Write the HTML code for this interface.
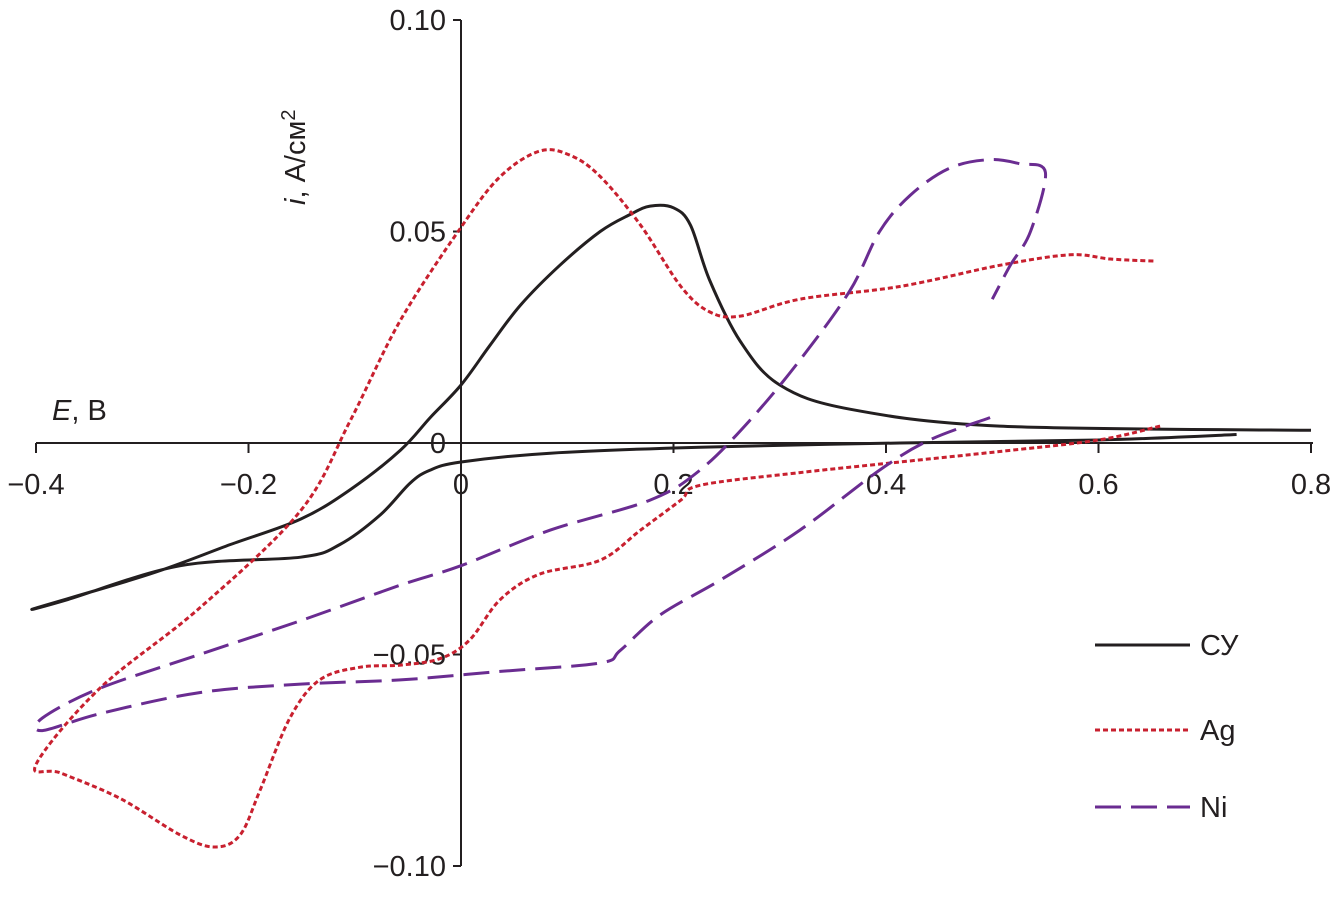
<!DOCTYPE html>
<html><head><meta charset="utf-8"><style>
body{margin:0;background:#fff;}
svg text{font-family:"Liberation Sans",sans-serif;font-size:29px;fill:#231f20;}
</style></head><body>
<svg id="chart" width="1335" height="894" viewBox="0 0 1335 894" xmlns="http://www.w3.org/2000/svg">
<g id="axes"></g>
<g id="series"></g>
<g id="legend"></g>
</svg>
<script>
const xTicks=[-0.4,-0.2,0,0.2,0.4,0.6,0.8];
const xTickLabels=["−0.4","−0.2","0","0.2","0.4","0.6","0.8"];
const yTicks=[0.10,0.05,0,-0.05,-0.10];
const yTickLabels=["0.10","0.05","0","−0.05","−0.10"];
const cyE=[0.8,0.507,0.366,0.3,0.263,0.234,0.216,0.2,0.178,0.159,0.131,0.093,0.056,0.027,0,-0.029,-0.057,-0.104,-0.151,-0.217,-0.293,-0.4,-0.37,-0.264,-0.151,-0.114,-0.076,-0.048,-0.029,0,0.084,0.225,0.413,0.6,0.73];
const cyI=[0.003,0.004,0.008,0.0137,0.024,0.0385,0.0515,0.0556,0.056,0.054,0.05,0.042,0.0326,0.023,0.0137,0.006,-0.0017,-0.011,-0.018,-0.024,-0.031,-0.039,-0.037,-0.029,-0.027,-0.024,-0.017,-0.0095,-0.0064,-0.0045,-0.0024,-0.001,0,0.0007,0.002];
const agE=[0.658,0.6,0.507,0.413,0.319,0.225,0.207,0.169,0.131,0.074,0.037,0.008,-0.02,-0.057,-0.095,-0.133,-0.161,-0.189,-0.208,-0.232,-0.264,-0.321,-0.377,-0.4,-0.34,-0.246,-0.151,-0.104,-0.057,0,0.037,0.074,0.103,0.131,0.169,0.207,0.234,0.263,0.319,0.413,0.507,0.573,0.611,0.653];
const agI=[0.004,0.0007,-0.002,-0.0045,-0.007,-0.01,-0.0135,-0.0206,-0.0277,-0.031,-0.037,-0.0466,-0.051,-0.0525,-0.053,-0.056,-0.065,-0.082,-0.0927,-0.0955,-0.0927,-0.084,-0.078,-0.076,-0.058,-0.039,-0.016,0.0054,0.029,0.051,0.063,0.069,0.068,0.063,0.0515,0.037,0.031,0.030,0.034,0.037,0.042,0.0445,0.0435,0.043];
const niE=[0.498,0.441,0.394,0.319,0.244,0.187,0.15,0.131,0.037,-0.057,-0.151,-0.246,-0.34,-0.394,-0.394,-0.34,-0.246,-0.151,-0.057,0,0.084,0.178,0.225,0.272,0.319,0.366,0.394,0.423,0.46,0.498,0.526,0.55,0.536,0.517,0.5];
const niI=[0.006,0.0007,-0.0064,-0.0206,-0.0324,-0.0407,-0.049,-0.052,-0.054,-0.056,-0.057,-0.059,-0.064,-0.068,-0.065,-0.058,-0.05,-0.042,-0.0336,-0.029,-0.0206,-0.0135,-0.0064,0.0054,0.0196,0.036,0.05,0.0586,0.065,0.067,0.066,0.064,0.05,0.042,0.034];
const X=e=>461+e*1062.5, Y=v=>443-v*4230;
const NS="http://www.w3.org/2000/svg";
function mk(tag,parent,attrs){const el=document.createElementNS(NS,tag);for(const k in attrs)el.setAttribute(k,attrs[k]);parent.appendChild(el);return el;}
const axes=document.getElementById('axes');
let el=mk('line',axes,{x1:36,y1:443,x2:1313,y2:443,stroke:'#231f20','stroke-width':2});


el=mk('line',axes,{x1:461,y1:20,x2:461,y2:866,stroke:'#231f20','stroke-width':2});


xTicks.forEach((t,i)=>{
 let tk=mk('line',axes,{x1:X(t),y1:443,x2:X(t),y2:453,stroke:'#231f20','stroke-width':2});
 
 
 let tx=mk('text',axes,{x:X(t),y:494,'text-anchor':'middle'});tx.textContent=xTickLabels[i];
 
 
});
yTicks.forEach((t,i)=>{
 let tk=mk('line',axes,{x1:453,y1:Y(t),x2:461,y2:Y(t),stroke:'#231f20','stroke-width':2});
 
 
 let tx=mk('text',axes,{x:446,y:Y(t)+10,'text-anchor':'end'});tx.textContent=yTickLabels[i];
 
 
});
let xl=mk('text',axes,{x:52,y:420});xl.innerHTML='<tspan font-style="italic">E</tspan>, В';


let yl=mk('text',axes,{x:0,y:0,transform:'translate(305,205) rotate(-90)'});yl.innerHTML='<tspan font-style="italic">i</tspan>, А/см<tspan dy="-10" font-size="20">2</tspan>';


const ser=document.getElementById('series');
function line(E,I,stroke,dash,name){
 const P=E.map((e,i)=>[X(e),Y(I[i])]);
 let d='M'+P[0][0].toFixed(1)+','+P[0][1].toFixed(1);
 for(let i=0;i<P.length-1;i++){
  const p0=P[Math.max(0,i-1)],p1=P[i],p2=P[i+1],p3=P[Math.min(P.length-1,i+2)];
  const c1=[p1[0]+(p2[0]-p0[0])/6,p1[1]+(p2[1]-p0[1])/6];
  const c2=[p2[0]-(p3[0]-p1[0])/6,p2[1]-(p3[1]-p1[1])/6];
  d+=' C'+c1.map(v=>v.toFixed(1)).join(',')+' '+c2.map(v=>v.toFixed(1)).join(',')+' '+p2.map(v=>v.toFixed(1)).join(',');
 }
 const p=mk('path',ser,{d:d,fill:'none',stroke:stroke,'stroke-width':3,'stroke-dasharray':dash,'stroke-linejoin':'round'});
 
 
}
line(cyE,cyI,'#231f20','none','series-cy');
line(agE,agI,'#c8202f','5 3','series-ag');
line(niE,niI,'#6a2c91','26 10','series-ni');
const lg=document.getElementById('legend');
[['СУ','#231f20','none',645],['Ag','#c8202f','5 3',730],['Ni','#6a2c91','26 10',807]].forEach(r=>{
 let l=mk('line',lg,{x1:1095,y1:r[3],x2:1190,y2:r[3],stroke:r[1],'stroke-width':3,'stroke-dasharray':r[2]});
 
 
 let t=mk('text',lg,{x:1200,y:r[3]+10});t.textContent=r[0];
 
 
});
</script>
</body></html>
